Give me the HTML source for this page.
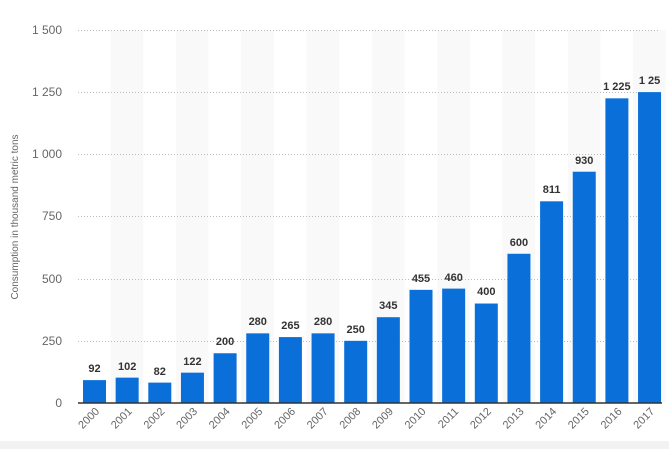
<!DOCTYPE html>
<html><head><style>body{margin:0;background:#fff}svg{display:block;font-family:"Liberation Sans",sans-serif}</style></head><body>
<svg width="669" height="449" xmlns="http://www.w3.org/2000/svg">
<g fill="#f9f9f9">
<rect x="110.65" y="30" width="32.65" height="373"/><rect x="175.95" y="30" width="32.65" height="373"/><rect x="241.25" y="30" width="32.65" height="373"/><rect x="306.55" y="30" width="32.65" height="373"/><rect x="371.85" y="30" width="32.65" height="373"/><rect x="437.15" y="30" width="32.65" height="373"/><rect x="502.45" y="30" width="32.65" height="373"/><rect x="567.75" y="30" width="32.65" height="373"/><rect x="633.05" y="30" width="32.65" height="373"/>
</g>
<g stroke="#bbb" stroke-dasharray="1,2" stroke-width="1">
<line x1="78" x2="660" y1="30.5" y2="30.5"/><line x1="78" x2="660" y1="92.5" y2="92.5"/><line x1="78" x2="660" y1="154.5" y2="154.5"/><line x1="78" x2="660" y1="216.5" y2="216.5"/><line x1="78" x2="660" y1="279.5" y2="279.5"/><line x1="78" x2="660" y1="341.5" y2="341.5"/>
</g>
<g fill="#666" font-size="12" text-anchor="end">
<text x="62" y="34">1 500</text><text x="62" y="96">1 250</text><text x="62" y="158">1 000</text><text x="62" y="220">750</text><text x="62" y="283">500</text><text x="62" y="345">250</text><text x="62" y="407">0</text>
</g>
<text transform="translate(18,217) rotate(-90)" text-anchor="middle" font-size="10" fill="#666">Consumption in thousand metric tons</text>
<g fill="#0a6fd8">
<rect x="83" y="380.12" width="23" height="22.88"/>
<rect x="115.65" y="377.63" width="23" height="25.37"/>
<rect x="148.3" y="382.61" width="23" height="20.39"/>
<rect x="180.95" y="372.66" width="23" height="30.34"/>
<rect x="213.6" y="353.26" width="23" height="49.74"/>
<rect x="246.25" y="333.36" width="23" height="69.64"/>
<rect x="278.9" y="337.09" width="23" height="65.91"/>
<rect x="311.55" y="333.36" width="23" height="69.64"/>
<rect x="344.2" y="340.82" width="23" height="62.18"/>
<rect x="376.85" y="317.2" width="23" height="85.8"/>
<rect x="409.5" y="289.84" width="23" height="113.16"/>
<rect x="442.15" y="288.6" width="23" height="114.4"/>
<rect x="474.8" y="303.52" width="23" height="99.48"/>
<rect x="507.45" y="253.78" width="23" height="149.22"/>
<rect x="540.1" y="201.3" width="23" height="201.7"/>
<rect x="572.75" y="171.71" width="23" height="231.29"/>
<rect x="605.4" y="98.34" width="23" height="304.66"/>
<rect x="638.05" y="92.12" width="23" height="310.88"/>
</g>
<g font-size="11" font-weight="bold" fill="#333" text-anchor="middle">
<text x="94.5" y="372">92</text>
<text x="127.15" y="370">102</text>
<text x="159.8" y="375">82</text>
<text x="192.45" y="365">122</text>
<text x="225.1" y="345">200</text>
<text x="257.75" y="325">280</text>
<text x="290.4" y="329">265</text>
<text x="323.05" y="325">280</text>
<text x="355.7" y="333">250</text>
<text x="388.35" y="309">345</text>
<text x="421" y="282">455</text>
<text x="453.65" y="281">460</text>
<text x="486.3" y="295">400</text>
<text x="518.95" y="246">600</text>
<text x="551.6" y="193">811</text>
<text x="584.25" y="164">930</text>
<text x="616.9" y="90">1 225</text>
<text x="649.55" y="84">1 25</text>
</g>
<g font-size="11" fill="#666" text-anchor="end">
<text transform="translate(100,412) rotate(-45)">2000</text>
<text transform="translate(132.65,412) rotate(-45)">2001</text>
<text transform="translate(165.3,412) rotate(-45)">2002</text>
<text transform="translate(197.95,412) rotate(-45)">2003</text>
<text transform="translate(230.6,412) rotate(-45)">2004</text>
<text transform="translate(263.25,412) rotate(-45)">2005</text>
<text transform="translate(295.9,412) rotate(-45)">2006</text>
<text transform="translate(328.55,412) rotate(-45)">2007</text>
<text transform="translate(361.2,412) rotate(-45)">2008</text>
<text transform="translate(393.85,412) rotate(-45)">2009</text>
<text transform="translate(426.5,412) rotate(-45)">2010</text>
<text transform="translate(459.15,412) rotate(-45)">2011</text>
<text transform="translate(491.8,412) rotate(-45)">2012</text>
<text transform="translate(524.45,412) rotate(-45)">2013</text>
<text transform="translate(557.1,412) rotate(-45)">2014</text>
<text transform="translate(589.75,412) rotate(-45)">2015</text>
<text transform="translate(622.4,412) rotate(-45)">2016</text>
<text transform="translate(655.05,412) rotate(-45)">2017</text>
</g>
<line x1="78" x2="662" y1="403" y2="403" stroke="#333" stroke-width="1.5"/>
<rect x="0" y="441" width="669" height="8" fill="#f2f2f2"/>
</svg>
</body></html>
